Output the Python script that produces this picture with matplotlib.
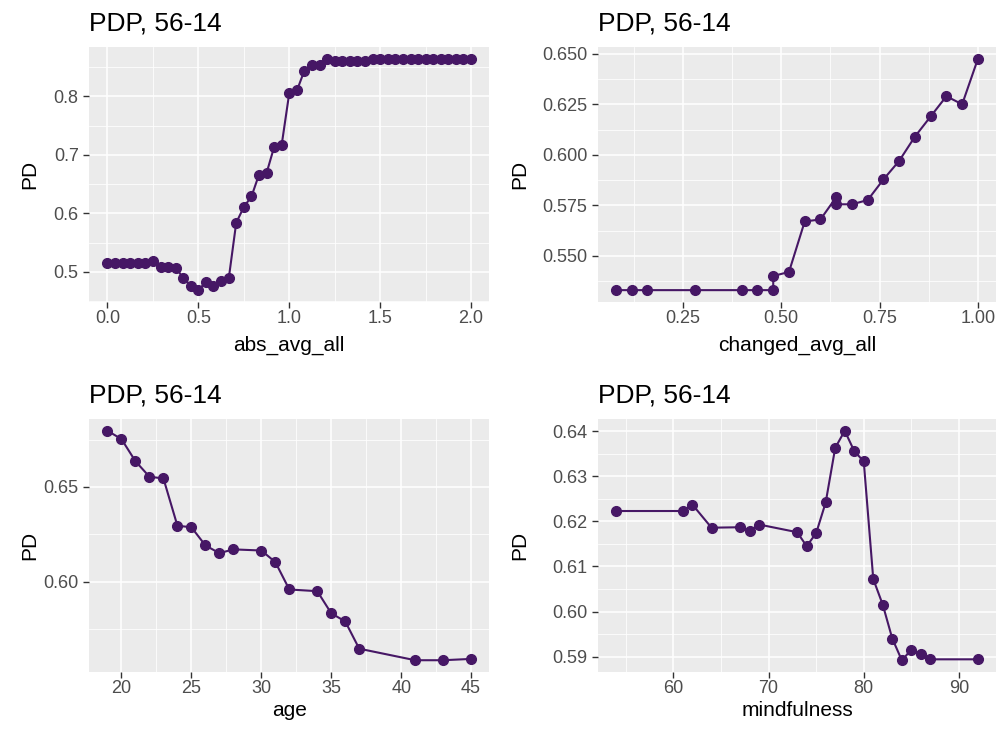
import matplotlib
matplotlib.use("Agg")
import matplotlib.pyplot as plt
from matplotlib.ticker import MultipleLocator, AutoMinorLocator, FormatStrFormatter


# ==============================
# DATA
# ==============================
abs_x = [0.000, 0.042, 0.083, 0.125, 0.167, 0.208, 0.250, 0.292, 0.333, 0.375,
         0.417, 0.458, 0.500, 0.542, 0.583, 0.625, 0.667, 0.708, 0.750, 0.792,
         0.833, 0.875, 0.917, 0.958, 1.000, 1.042, 1.083, 1.125, 1.167, 1.208,
         1.250, 1.292, 1.333, 1.375, 1.417, 1.458, 1.500, 1.542, 1.583, 1.625,
         1.667, 1.708, 1.750, 1.792, 1.833, 1.875, 1.917, 1.958, 2.000]
abs_pd = [0.516, 0.516, 0.516, 0.516, 0.516, 0.515, 0.518, 0.508, 0.508, 0.507,
          0.490, 0.476, 0.469, 0.483, 0.476, 0.485, 0.489, 0.584, 0.611, 0.629,
          0.666, 0.669, 0.714, 0.717, 0.806, 0.810, 0.844, 0.854, 0.854, 0.863,
          0.861, 0.861, 0.861, 0.861, 0.861, 0.864, 0.864, 0.864, 0.864, 0.864,
          0.864, 0.864, 0.864, 0.864, 0.864, 0.864, 0.864, 0.864, 0.864]

changed_x = [0.08, 0.12, 0.16, 0.28, 0.40, 0.44, 0.48, 0.48, 0.52, 0.56, 0.60,
             0.64, 0.64, 0.68, 0.72, 0.76, 0.80, 0.84, 0.88, 0.92, 0.96, 1.00]
changed_pd = [0.533, 0.533, 0.533, 0.533, 0.533, 0.533, 0.533, 0.540, 0.542,
              0.567, 0.568, 0.579, 0.5755, 0.5755, 0.5776, 0.5878, 0.597, 0.609,
              0.619, 0.629, 0.625, 0.6475]

age_x = [19, 20, 21, 22, 23, 24, 25, 26, 27, 28, 30, 31, 32, 34, 35, 36, 37, 41, 43, 45]
age_pd = [0.6797, 0.6753, 0.6636, 0.6554, 0.6545, 0.6295, 0.6287, 0.6191, 0.6150,
          0.6170, 0.6164, 0.6103, 0.5958, 0.5949, 0.5832, 0.5789, 0.5645, 0.5584,
          0.5584, 0.5591]

mind_x = [54, 61, 62, 64, 67, 68, 69, 73, 74, 75, 76, 77, 78, 79, 80, 81, 82, 83,
          84, 85, 86, 87, 92]
mind_pd = [0.6223, 0.6223, 0.6237, 0.6186, 0.6187, 0.6179, 0.6193, 0.6176, 0.6145,
           0.6174, 0.6242, 0.6363, 0.6401, 0.6356, 0.6333, 0.6072, 0.6015, 0.5940,
           0.5892, 0.5915, 0.5905, 0.5894, 0.5894]

TITLE = "PDP, 56-14"
LINE_COLOR = "#461765"

plt.rcParams['font.family'] = ['Liberation Sans', 'DejaVu Sans']

W, H = 998, 729
fig = plt.figure(figsize=(W / 100, H / 100), dpi=100)


def px_axes(left, top, right, bottom):
    return fig.add_axes([left / W, 1 - bottom / H, (right - left) / W, (bottom - top) / H])


def draw_panel(ax, x, y, xlabel, xstep, ystep, xfmt, yfmt, labelpad):
    ax.set_facecolor("#EBEBEB")
    for s in ax.spines.values():
        s.set_visible(False)
    ax.plot(x, y, color=LINE_COLOR, lw=1.5, marker="o", ms=7, zorder=3)

    ax.xaxis.set_major_locator(MultipleLocator(xstep))
    ax.yaxis.set_major_locator(MultipleLocator(ystep))
    ax.xaxis.set_minor_locator(AutoMinorLocator(2))
    ax.yaxis.set_minor_locator(AutoMinorLocator(2))
    ax.xaxis.set_major_formatter(FormatStrFormatter(xfmt))
    ax.yaxis.set_major_formatter(FormatStrFormatter(yfmt))

    ax.grid(which="major", color="white", lw=1.1)
    ax.grid(which="minor", color="white", lw=0.55)
    ax.set_axisbelow(True)

    ax.tick_params(which="major", length=4.3, width=1.0, color="#333333",
                   labelsize=13, labelcolor="#4D4D4D")
    ax.tick_params(axis="x", pad=1.7)
    ax.tick_params(axis="y", pad=3.3)
    ax.tick_params(which="minor", length=0)

    ax.set_title(TITLE, loc="left", fontsize=19, pad=12)
    ax.set_xlabel(xlabel, fontsize=15, labelpad=labelpad)


ax1 = px_axes(89.3, 47.3, 489.3, 301.7)
draw_panel(ax1, abs_x, abs_pd, "abs_avg_all", 0.5, 0.1, "%.1f", "%.1f", 6)

ax2 = px_axes(597.7, 47.3, 996, 301.7)
draw_panel(ax2, changed_x, changed_pd, "changed_avg_all", 0.25, 0.025, "%.2f", "%.3f", 6)

ax3 = px_axes(89.3, 419.3, 489.3, 671.7)
draw_panel(ax3, age_x, age_pd, "age", 5, 0.05, "%d", "%.2f", 3)

ax4 = px_axes(598.3, 419.3, 996, 671.7)
draw_panel(ax4, mind_x, mind_pd, "mindfulness", 10, 0.01, "%d", "%.2f", 3)

# y axis titles
for xc, (top, bottom) in [(30, (47.3, 301.7)), (520, (47.3, 301.7)),
                          (30, (419.3, 671.7)), (520, (419.3, 671.7))]:
    fig.text(xc / W, 1 - (top + bottom) / 2 / H, "PD", rotation=90,
             ha="center", va="center", fontsize=15)

fig.savefig("out.png", dpi=100)
